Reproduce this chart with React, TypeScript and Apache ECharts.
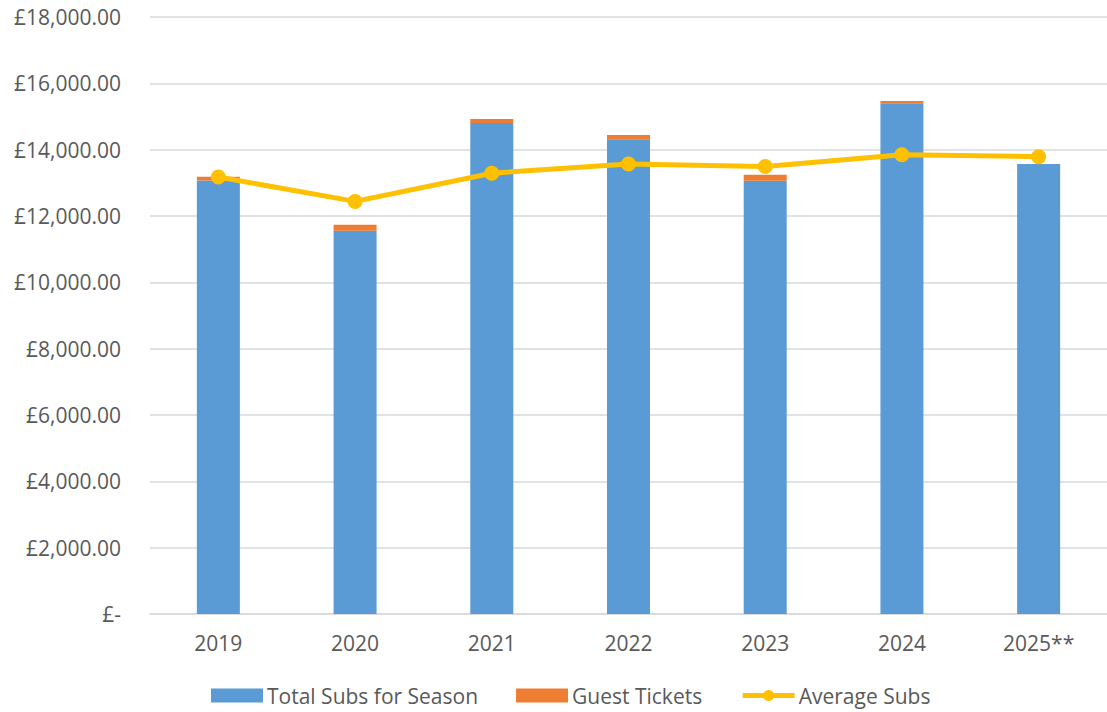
import React, { useEffect, useRef } from "react";
import * as echarts from "echarts";

const categories = ["2019", "2020", "2021", "2022", "2023", "2024", "2025**"];
const totalSubs = [13070, 11555, 14805, 14315, 13060, 15400, 13570];
const guestTickets = [110, 180, 120, 130, 180, 70, 0];
const averageSubs = [13175, 12440, 13290, 13570, 13490, 13845, 13790];
const yTicks = { min: 0, max: 18000, interval: 2000 };

const fmt = (v: number) =>
  v === 0
    ? "£-"
    : "£" + v.toLocaleString("en-GB", { minimumFractionDigits: 2, maximumFractionDigits: 2 });

export default function App() {
  const ref = useRef<HTMLDivElement>(null);
  useEffect(() => {
    const chart = echarts.init(ref.current!, null, { renderer: "svg" });
    const font = "'Open Sans', 'Noto Sans', sans-serif";
    chart.setOption({
      animation: false,
      textStyle: { fontFamily: font },
      grid: { left: 150, right: -3, top: 17, bottom: 98, containLabel: false },
      legend: {
        bottom: 1,
        left: 206,
        itemWidth: 52,
        itemHeight: 14,
        itemGap: 38,
        textStyle: { fontSize: 21, color: "#595959", fontFamily: font, padding: [0, 0, 0, -1] },
        data: [
          { name: "Total Subs for Season", icon: "rect" },
          { name: "Guest Tickets", icon: "rect" },
          { name: "Average Subs", lineStyle: { width: 5 } },
        ],
      },
      xAxis: {
        type: "category",
        data: categories,
        axisLine: { lineStyle: { color: "#d9d9d9", width: 1.5 } },
        axisTick: { show: false },
        axisLabel: { color: "#595959", fontSize: 21, margin: 18, fontFamily: font },
      },
      yAxis: {
        type: "value",
        min: yTicks.min,
        max: yTicks.max,
        interval: yTicks.interval,
        axisLine: { show: false },
        axisTick: { show: false },
        splitLine: { lineStyle: { color: "#d9d9d9", width: 1.5 } },
        axisLabel: { color: "#595959", fontSize: 21, margin: 29, formatter: fmt, fontFamily: font },
      },
      series: [
        {
          name: "Total Subs for Season",
          type: "bar",
          stack: "total",
          barWidth: 43,
          data: totalSubs,
          itemStyle: { color: "#5b9bd5" },
        },
        {
          name: "Guest Tickets",
          type: "bar",
          stack: "total",
          barWidth: 43,
          data: guestTickets,
          itemStyle: { color: "#ed7d31" },
        },
        {
          name: "Average Subs",
          type: "line",
          data: averageSubs,
          symbol: "circle",
          symbolSize: 15,
          lineStyle: { color: "#ffc000", width: 5 },
          itemStyle: { color: "#ffc000" },
          z: 5,
        },
      ],
    });
    return () => chart.dispose();
  }, []);
  return (
    <div
      ref={ref}
      style={{ position: "fixed", left: 0, top: 0, width: 1107, height: 712, background: "#fff" }}
    />
  );
}
